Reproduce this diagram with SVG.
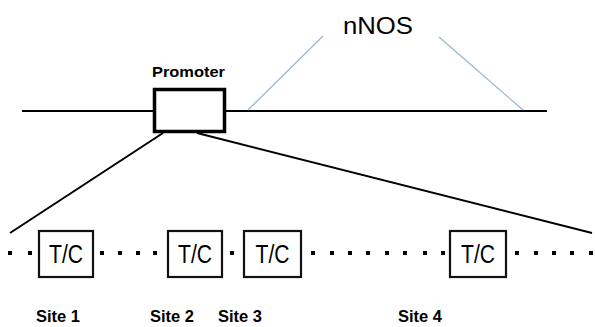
<svg xmlns="http://www.w3.org/2000/svg" width="595" height="327" viewBox="0 0 595 327">
<style>
.ln{stroke:#000;stroke-width:2;fill:none}
.bl{stroke:#9bb4cc;stroke-width:1.2;fill:none}
.site{fill:#fff;stroke:#111;stroke-width:2.2}
.dot{fill:#000}
.tc{font-family:"Liberation Sans",Arial,sans-serif;font-size:26px;text-anchor:middle}
.lab{font-family:"Liberation Sans",Arial,sans-serif;font-size:15px;font-weight:bold}
.site-lab{font-family:"Liberation Sans",Arial,sans-serif;font-size:16px;font-weight:bold}
</style>
<rect width="595" height="327" fill="#fff"/>
<g id="connectors">
<line class="ln" x1="22" y1="111" x2="547" y2="111"/>
<line class="bl" x1="323" y1="36" x2="248" y2="110"/>
<line class="bl" x1="439" y1="37" x2="523" y2="110"/>
<line class="ln" x1="163" y1="133" x2="10" y2="233"/>
<line class="ln" x1="197" y1="133" x2="592" y2="233"/>
<g class="dot">
<rect x="8" y="251" width="4" height="4"/>
<rect x="28" y="251" width="4" height="4"/>
<rect x="100" y="251" width="4" height="4"/>
<rect x="118" y="251" width="4" height="4"/>
<rect x="136" y="251" width="4" height="4"/>
<rect x="153" y="251" width="4" height="4"/>
<rect x="230" y="251" width="4" height="4"/>
<rect x="311" y="251" width="4" height="4"/>
<rect x="330" y="251" width="4" height="4"/>
<rect x="348" y="251" width="4" height="4"/>
<rect x="366" y="251" width="4" height="4"/>
<rect x="385" y="251" width="4" height="4"/>
<rect x="403" y="251" width="4" height="4"/>
<rect x="423" y="251" width="4" height="4"/>
<rect x="441" y="251" width="4" height="4"/>
<rect x="515" y="251" width="4" height="4"/>
<rect x="534" y="251" width="4" height="4"/>
<rect x="552" y="251" width="4" height="4"/>
<rect x="570" y="251" width="4" height="4"/>
<rect x="589" y="251" width="4" height="4"/>
</g>
</g>
<text x="378" y="34" font-family="Liberation Sans,Arial,sans-serif" font-size="24" text-anchor="middle" textLength="70" lengthAdjust="spacingAndGlyphs">nNOS</text>
<g id="promoter">
<rect x="154.5" y="89.5" width="70" height="42" fill="#fff" stroke="#000" stroke-width="3.5"/>
<text x="188.5" y="77" class="lab" font-size="14" text-anchor="middle" textLength="73" lengthAdjust="spacingAndGlyphs">Promoter</text>
</g>
<g id="site1">
<rect class="site" x="39" y="231" width="54" height="46"/>
<text class="tc" x="66" y="263" textLength="34" lengthAdjust="spacingAndGlyphs">T/C</text>
<text class="site-lab" x="36" y="322" textLength="44" lengthAdjust="spacingAndGlyphs">Site 1</text>
</g>
<g id="site2">
<rect class="site" x="168" y="231" width="54" height="46"/>
<text class="tc" x="195" y="263" textLength="34" lengthAdjust="spacingAndGlyphs">T/C</text>
<text class="site-lab" x="150" y="322" textLength="44" lengthAdjust="spacingAndGlyphs">Site 2</text>
</g>
<g id="site3">
<rect class="site" x="244" y="231" width="57" height="46"/>
<text class="tc" x="272.5" y="263" textLength="34" lengthAdjust="spacingAndGlyphs">T/C</text>
<text class="site-lab" x="218" y="322" textLength="44" lengthAdjust="spacingAndGlyphs">Site 3</text>
</g>
<g id="site4">
<rect class="site" x="450" y="231" width="56" height="46"/>
<text class="tc" x="478" y="263" textLength="34" lengthAdjust="spacingAndGlyphs">T/C</text>
<text class="site-lab" x="398" y="322" textLength="44" lengthAdjust="spacingAndGlyphs">Site 4</text>
</g>
</svg>
